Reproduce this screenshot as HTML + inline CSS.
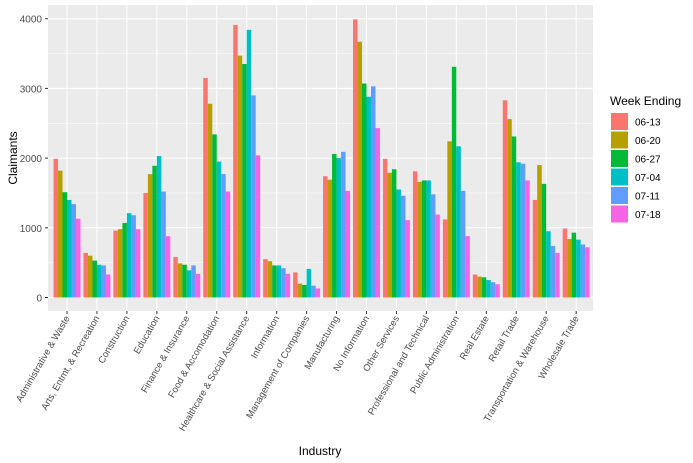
<!DOCTYPE html>
<html><head><meta charset="utf-8"><style>
body{margin:0;background:#fff;}
svg{display:block;font-family:"Liberation Sans",Arial,sans-serif;}
</style></head><body>
<svg id="chart" width="693" height="463" viewBox="0 0 693 463">
<rect x="48" y="5" width="545" height="306" fill="#ebebeb"/>
<g id="grid"></g><g id="bars"></g><g id="axes"></g><g id="legend"></g>
<text transform="translate(17,158) rotate(-90)" text-anchor="middle" font-size="12" fill="#000">Claimants</text>
<text x="320" y="455" text-anchor="middle" font-size="12" fill="#000">Industry</text>
</svg>
<script>
const categories=["Administrative & Waste","Arts, Entmt, & Recreation","Construction","Education","Finance & Insurance","Food & Accomodation","Healthcare & Social Assistance","Information","Management of Companies","Manufacturing","No Information","Other Services","Professional and Technical","Public Administration","Real Estate","Retail Trade","Transportation & Warehouse","Wholesale Trade"];
const seriesNames=["06-13","06-20","06-27","07-04","07-11","07-18"];
const colors=["#f8766d","#b79f00","#00ba38","#00bfc4","#619cff","#f564e3"];
const s0613=[1990,640,960,1500,580,3150,3910,550,360,1740,3990,1990,1810,1120,330,2830,1400,990];
const s0620=[1820,600,980,1770,490,2780,3470,520,200,1690,3670,1790,1660,2240,300,2560,1900,840];
const s0627=[1510,530,1070,1890,470,2340,3350,460,180,2060,3070,1840,1680,3310,290,2310,1630,930];
const s0704=[1400,470,1210,2030,390,1950,3840,460,410,2000,2880,1550,1680,2170,250,1940,950,830];
const s0711=[1340,460,1180,1520,460,1770,2900,420,170,2090,3030,1460,1480,1530,220,1920,740,760];
const s0718=[1130,330,980,880,340,1520,2040,340,130,1530,2430,1110,1190,880,190,1680,640,720];
const yTicks=[0,1000,2000,3000,4000];
const series=[s0613,s0620,s0627,s0704,s0711,s0718];
const NS="http://www.w3.org/2000/svg";
const y=v=>297.5-v*0.06970;
const step=29.95;
const x=i=>67+i*step;
function mk(t,a,p){const e=document.createElementNS(NS,t);for(const k in a)e.setAttribute(k,a[k]);p.appendChild(e);return e;}
const grid=document.getElementById('grid'),bars=document.getElementById('bars'),axes=document.getElementById('axes'),leg=document.getElementById('legend');
for(let k=0;k<yTicks.length-1;k++){const m=mk('line',{x1:48,x2:593,y1:y((yTicks[k]+yTicks[k+1])/2),y2:y((yTicks[k]+yTicks[k+1])/2),stroke:'#fff','stroke-width':0.5},grid);}
yTicks.forEach(v=>{
const l=mk('line',{x1:48,x2:593,y1:y(v),y2:y(v),stroke:'#fff','stroke-width':1},grid);


mk('line',{x1:45,x2:48,y1:y(v),y2:y(v),stroke:'#333'},axes);
const t=mk('text',{x:42,y:y(v)+4,'text-anchor':'end','font-size':10,fill:'#4d4d4d'},axes);t.textContent=v;


});
const bw=step*0.9/6;
categories.forEach((c,i)=>{
mk('line',{x1:x(i),x2:x(i),y1:5,y2:311,stroke:'#fff','stroke-width':1},grid);
mk('line',{x1:x(i),x2:x(i),y1:311,y2:314,stroke:'#333'},axes);
series.forEach((s,j)=>{
const bx=x(i)-step*0.45+j*bw;
const r=mk('rect',{x:bx,y:y(s[i]),width:bw,height:y(0)-y(s[i]),fill:colors[j]},bars);


});
const t=mk('text',{transform:`translate(${x(i)+3},318) rotate(-60)`,'text-anchor':'end','font-size':9.5,fill:'#4d4d4d'},axes);
t.textContent=c;


});
const lt=mk('text',{x:610,y:105,'font-size':12,fill:'#000'},leg);lt.textContent="Week Ending";


seriesNames.forEach((n,j)=>{
const g=mk('g',{},leg);


mk('rect',{x:611,y:113+j*18.5,width:17,height:17,fill:colors[j]},g);
const t=mk('text',{x:635,y:125.5+j*18.5,'font-size':10,fill:'#000'},g);t.textContent=n;
});
</script>
</body></html>
